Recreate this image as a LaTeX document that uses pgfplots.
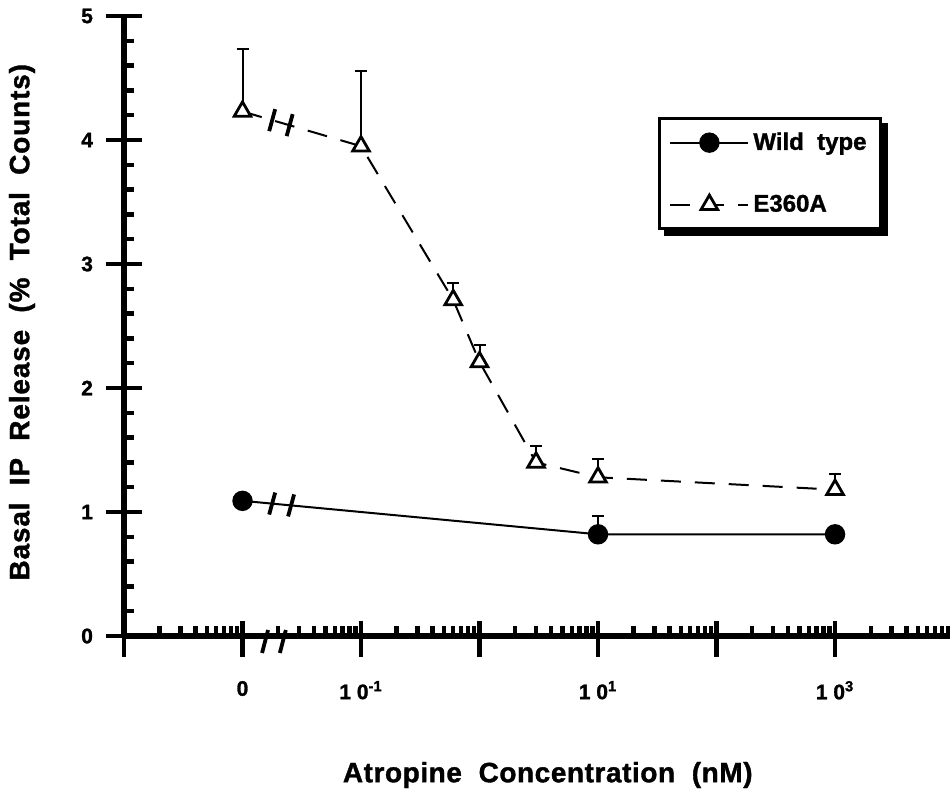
\documentclass[border=0pt]{standalone}
\usepackage{fontspec}
\setmainfont{Liberation Sans}[BoldFeatures={FakeBold=1.3}]
\usepackage{pgfplots}
\pgfplotsset{compat=1.18}

\begin{document}
\begin{tikzpicture}
\useasboundingbox (-62pt,-78.5pt) rectangle (413pt,318pt);
\begin{axis}[
  at={(0,0)}, anchor=south west,
  scale only axis, width=413pt, height=310pt,
  xmode=log, log basis x=10,
  xmin=1e-3, xmax=9333,
  ymin=0, ymax=5,
  clip=false,
  axis x line*=bottom, axis y line*=left,
  axis line style={line width=2.8pt},
  xtick={1e-3,1e-2,1e-1,1,10,100,1000},
  xticklabels={,0,1\ 0\textsuperscript{-1},,1\ 0\textsuperscript{1},,1\ 0\textsuperscript{3}},
  minor xtick={0.002,0.003,0.004,0.005,0.006,0.007,0.008,0.009,
    0.02,0.03,0.04,0.05,0.06,0.07,0.08,0.09,
    0.2,0.3,0.4,0.5,0.6,0.7,0.8,0.9,
    2,3,4,5,6,7,8,9,
    20,30,40,50,60,70,80,90,
    200,300,400,500,600,700,800,900,
    2000,3000,4000,5000,6000,7000,8000,9000},
  ytick={0,1,2,3,4,5},
  minor y tick num=4,
  /pgf/number format/assume math mode=true,
  tick align=inside,
  tick style={black},
  major tick length=18pt, minor tick length=5pt,
  major x tick style={black, line width=2.4pt, yshift=-10.5pt},
  major y tick style={black, line width=2.4pt, xshift=-9pt},
  minor tick style={black, line width=2.2pt},
  ticklabel style={font=\fontsize{10.5}{12}\selectfont\bfseries},
  xticklabel style={yshift=-19pt},
  yticklabel style={xshift=-12pt},
  xlabel={Atropine\ \ Concentration\ \ (nM)},
  ylabel={Basal\ \ IP\ \ Release\ \ (\%\ \ Total\ \ Counts)},
  xlabel style={at={([yshift=-69.5pt]axis description cs:0.513,0)}, anchor=center,
    font=\fontsize{14}{17}\selectfont\bfseries\addfontfeature{LetterSpace=2}},
  ylabel style={at={([xshift=-51pt]axis description cs:0,0.506)}, anchor=center,
    font=\fontsize{14}{17}\selectfont\bfseries\addfontfeature{LetterSpace=3}},
  legend style={name=leg, at={(rel axis cs:0.6465,0.837)}, anchor=north west,
    draw=black, line width=1.4pt, fill=white,
    font=\fontsize{12}{14}\selectfont\bfseries,
    row sep=17pt, inner xsep=5pt, inner ysep=5pt,
    cells={anchor=west}},
  legend image code/.code={\draw[mark repeat=2, mark phase=2, #1]
    plot coordinates {(0pt,0pt)(19.5pt,0pt)(39pt,0pt)};},
]
\addplot[black, line width=1pt, mark=*, mark size=4.6pt,
  error bars/.cd, y dir=plus, y explicit,
  error bar style={line width=1pt},
  error mark options={line width=1pt, mark size=3pt, rotate=90}]
  coordinates {
  (0.01,1.09) +- (0,0)
  (10,0.82) +- (0,0.15)
  (1000,0.82) +- (0,0)
};
\addlegendentry{Wild\ \ type}
\addplot[black, line width=1pt, dash pattern=on 10pt off 7pt,
  mark=triangle*, mark size=4.8pt,
  mark options={solid, fill=white, line width=1.4pt},
  error bars/.cd, y dir=plus, y explicit,
  error bar style={solid, line width=1pt},
  error mark options={solid, line width=1pt, mark size=3pt, rotate=90}]
  coordinates {
  (0.01,4.23) +- (0,0.50)
  (0.1,3.95) +- (0,0.61)
  (0.6,2.71) +- (0,0.14)
  (1,2.21) +- (0,0.14)
  (3,1.40) +- (0,0.13)
  (10,1.28) +- (0,0.15)
  (1000,1.18) +- (0,0.13)
};
\addlegendentry{E360A}
% axis break marks
\draw[line width=1.9pt] (axis cs:0.0155,0) ++(1.5pt,3pt) -- ++(-3pt,-11.5pt);
\draw[line width=1.9pt] (axis cs:0.0219,0) ++(1.5pt,3pt) -- ++(-3pt,-11.5pt);
\draw[line width=1.9pt] (axis cs:0.0178,1.068) ++(1.5pt,5.5pt) -- ++(-3pt,-11pt);
\draw[line width=1.9pt] (axis cs:0.0257,1.053) ++(1.5pt,5.5pt) -- ++(-3pt,-11pt);
\draw[line width=1.9pt] (axis cs:0.0178,4.16) ++(1.5pt,5.5pt) -- ++(-3pt,-11pt);
\draw[line width=1.9pt] (axis cs:0.025,4.12) ++(1.5pt,5.5pt) -- ++(-3pt,-11pt);
\end{axis}
% shadow of the legend box
\fill[black] ([yshift=-3pt]leg.north east) rectangle ([xshift=3pt,yshift=-3pt]leg.south east);
\fill[black] ([xshift=3pt]leg.south west) rectangle ([xshift=3pt,yshift=-3pt]leg.south east);
\end{tikzpicture}
\end{document}
